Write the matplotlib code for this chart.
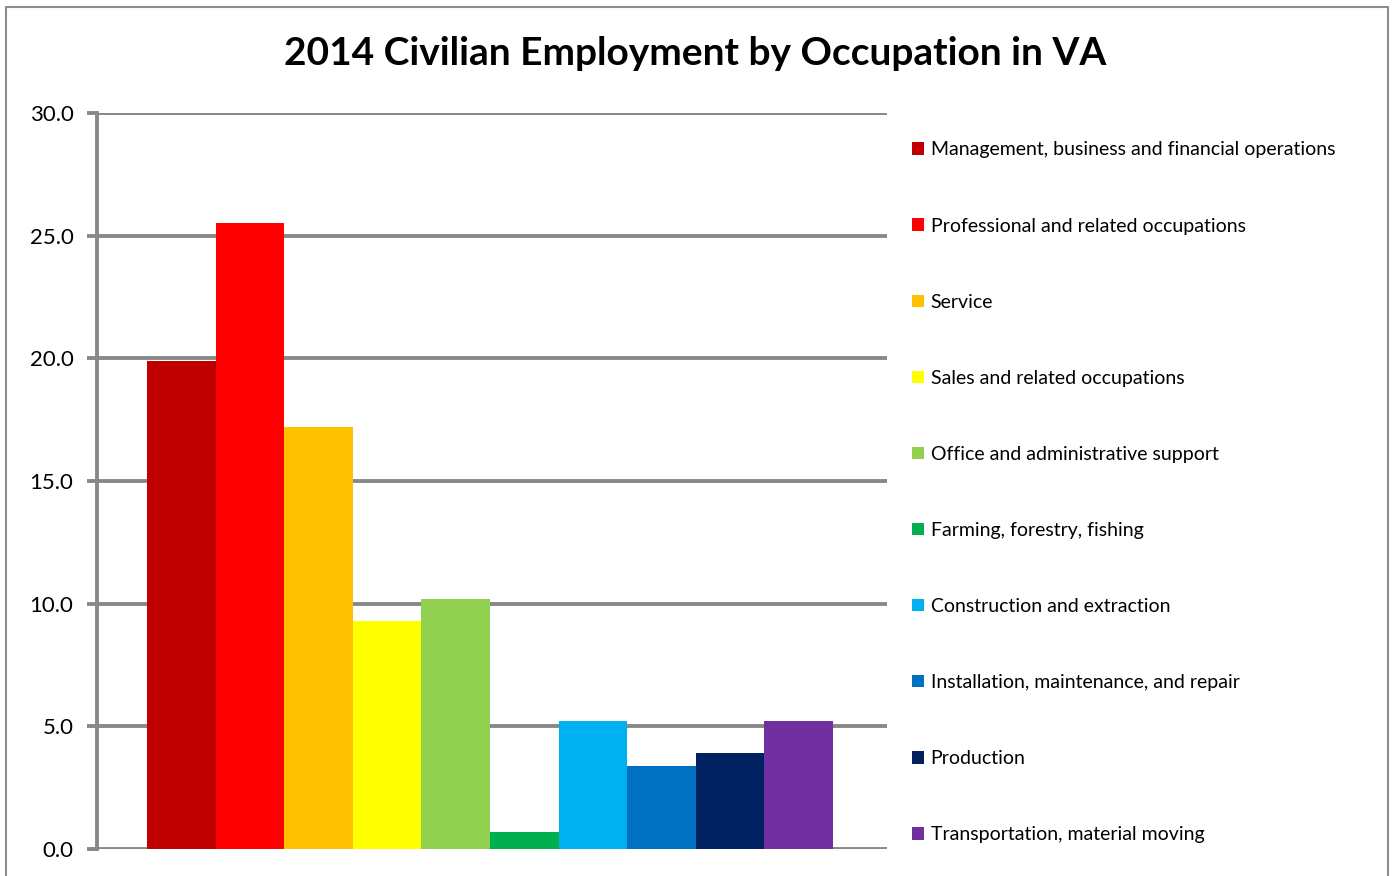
import matplotlib.pyplot as plt
from matplotlib.patches import Rectangle

plt.rcParams['font.family'] = ['Lato', 'DejaVu Sans']

occupations = [
    'Management, business and financial operations',
    'Professional and related occupations',
    'Service',
    'Sales and related occupations',
    'Office and administrative support',
    'Farming, forestry, fishing',
    'Construction and extraction',
    'Installation, maintenance, and repair',
    'Production',
    'Transportation, material moving',
]
shares = [19.9, 25.5, 17.2, 9.3, 10.2, 0.7, 5.2, 3.4, 3.9, 5.2]
colors = ['#C00000', '#FF0000', '#FFC000', '#FFFF00', '#92D050',
          '#00B050', '#00B0F0', '#0070C0', '#002060', '#7030A0']
yticks = [0, 5, 10, 15, 20, 25, 30]

fig = plt.figure(figsize=(13.94, 8.76), dpi=100)
ax = fig.add_axes([0.0696, 0.0308, 0.5667, 0.8402])

# chart frame
fig.patches.append(Rectangle((0.004, -0.05), 0.992, 1.042, transform=fig.transFigure,
                             fill=False, edgecolor='#8c8c8c', linewidth=1.5))

xs = list(range(len(shares)))
bars = ax.bar(xs, shares, width=1.0, color=colors, zorder=3)

ax.set_xlim(-0.5 - 0.73, len(shares) - 0.5 + 0.79)
ax.set_ylim(0, 30)
ax.set_yticks(yticks)
ax.set_yticklabels(['%.1f' % v for v in yticks], fontsize=16)
ax.set_xticks([])
ax.yaxis.grid(True, color='#888888', linewidth=2.8, zorder=1)
ax.tick_params(axis='y', length=7, width=2.8, color='#888888', pad=10)
for side in ['top', 'right', 'bottom']:
    ax.spines[side].set_visible(False)
ax.spines['left'].set_color('#888888')
ax.spines['left'].set_linewidth(2.8)

fig.text(0.4985, 0.939, '2014 Civilian Employment by Occupation in VA',
         ha='center', va='center', fontsize=28, fontweight='bold')

ax.legend(bars, occupations, loc='upper left', bbox_to_anchor=(1.022, 0.972),
          frameon=False, fontsize=14, handlelength=0.6, handleheight=0.6,
          handletextpad=0.35, labelspacing=3.04, borderaxespad=0)

fig.savefig('out.png', dpi=100)
